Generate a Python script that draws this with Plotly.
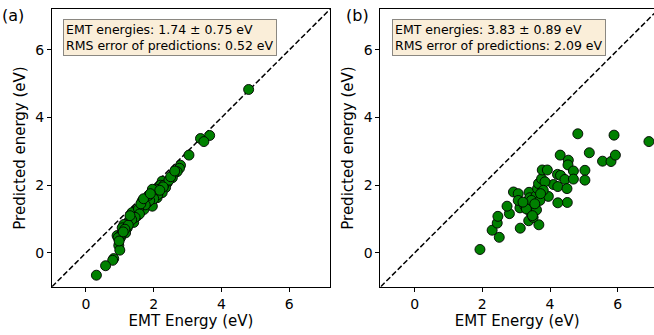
import plotly.graph_objects as go

# ---------------- data ----------------
left_x = [4.80, 3.65, 3.38, 3.48, 3.04, 2.79, 2.76, 2.69, 2.59, 2.55, 2.40, 2.25, 2.35, 2.20,
          2.15, 2.25, 2.05, 2.10, 1.96, 1.96, 1.81, 1.66, 1.61, 1.71, 1.46, 1.36, 1.51, 1.32,
          1.27, 1.41, 1.12, 1.07, 1.22, 1.17, 0.92, 1.02, 0.97, 1.00, 0.82, 0.79, 0.58, 0.31,
          1.96, 2.30, 2.45, 2.28, 2.12, 2.00, 1.88, 1.75, 1.55, 1.58, 1.45, 1.35, 1.25, 1.15,
          1.05, 0.95, 1.30, 1.62, 1.85, 2.18, 2.50, 2.62, 1.10, 0.98, 1.70, 1.90]
left_y = [4.83, 3.47, 3.38, 3.29, 2.89, 2.59, 2.50, 2.40, 2.34, 2.22, 2.07, 2.12, 1.93, 2.00,
          1.88, 1.78, 1.78, 1.63, 1.68, 1.38, 1.48, 1.53, 1.33, 1.28, 1.23, 1.19, 1.09, 1.04,
          0.94, 0.90, 0.84, 0.74, 0.74, 0.59, 0.51, 0.45, 0.22, 0.08, -0.17, -0.22, -0.38, -0.66,
          1.88, 2.00, 2.15, 1.95, 1.72, 1.60, 1.55, 1.42, 1.30, 1.15, 1.05, 0.98, 0.82, 0.70,
          0.55, 0.45, 1.10, 1.45, 1.70, 1.85, 2.25, 2.42, 0.62, 0.35, 1.60, 1.75]

right_x = [1.93, 2.50, 2.29, 2.44, 2.46, 2.80, 2.73, 2.92, 3.06, 3.11, 3.06, 3.12, 3.31, 3.38,
           3.40, 3.43, 3.37, 3.53, 3.67, 3.60, 3.59, 3.63, 3.66, 3.75, 3.77, 3.92, 3.95, 4.10,
           4.23, 4.22, 4.31, 4.44, 4.30, 4.50, 4.54, 4.53, 4.69, 4.69, 4.51, 4.23, 4.82, 5.03,
           5.03, 5.16, 5.55, 5.80, 5.93, 5.89, 6.92, 3.25, 3.45, 3.50, 3.70, 3.85, 3.30, 3.55,
           3.80, 3.20, 3.48, 3.72]
right_y = [0.10, 0.46, 0.67, 0.88, 1.08, 1.16, 1.38, 1.80, 1.75, 1.33, 1.55, 0.73, 1.50, 1.79,
           1.63, 1.19, 0.95, 1.23, 0.83, 1.27, 1.69, 1.90, 2.05, 2.19, 2.45, 2.45, 1.67, 2.02,
           1.96, 2.32, 2.29, 2.17, 2.89, 1.90, 2.74, 2.60, 2.42, 2.18, 1.49, 1.48, 3.52, 2.44,
           2.15, 2.96, 2.71, 2.70, 2.89, 3.48, 3.29, 1.40, 1.55, 1.05, 1.55, 2.10, 1.30, 1.45,
           1.85, 1.50, 1.10, 1.75]

limits = [-1.0, 7.2]
tick_vals = [0, 2, 4, 6]
tick_text = ["0", "2", "4", "6"]
panel_labels = ["(a)", "(b)"]
stats_text = ["EMT energies: 1.74 ± 0.75 eV<br>RMS error of predictions: 0.52 eV",
              "EMT energies: 3.83 ± 0.89 eV<br>RMS error of predictions: 2.09 eV"]
x_title = "EMT Energy (eV)"
y_title = "Predicted energy (eV)"

# ---------------- figure ----------------
FONT = "DejaVu Sans"
W, H = 654, 335
fig = go.Figure()

marker = dict(color="#008000", size=10, line=dict(color="black", width=0.9))
dash_line = dict(color="black", width=1.5, dash="5.5px,2.5px")

for i, (xs, ys) in enumerate([(left_x, left_y), (right_x, right_y)]):
    xa = "x" if i == 0 else "x2"
    ya = "y" if i == 0 else "y2"
    fig.add_trace(go.Scatter(x=limits, y=limits, mode="lines", line=dash_line,
                             xaxis=xa, yaxis=ya, showlegend=False, hoverinfo="skip"))
    fig.add_trace(go.Scatter(x=xs, y=ys, mode="markers", marker=marker,
                             xaxis=xa, yaxis=ya, showlegend=False))

y_dom = [48.3 / H, 325.7 / H]
axis_common = dict(tickvals=tick_vals, ticktext=tick_text, ticks="outside", ticklen=4,
                   tickwidth=1, tickcolor="black", showline=True, linecolor="black",
                   linewidth=1, showgrid=False, zeroline=False,
                   tickfont=dict(family=FONT, size=14, color="black"))

fig.update_layout(
    width=W, height=H, margin=dict(l=0, r=0, t=0, b=0),
    plot_bgcolor="white", paper_bgcolor="white",
    xaxis=dict(domain=[52 / W, 330 / W], range=limits, anchor="y", mirror=True,
               title=dict(text=x_title, font=dict(family=FONT, size=15, color="black"), standoff=4),
               **axis_common),
    yaxis=dict(domain=y_dom, range=limits, anchor="x", mirror=True,
               title=dict(text=y_title, font=dict(family=FONT, size=15, color="black"), standoff=6),
               **axis_common),
    xaxis2=dict(domain=[380.4 / W, 1.0], range=[-1.01, 7.07], anchor="y2", mirror=True,
                title=dict(text=x_title, font=dict(family=FONT, size=15, color="black"), standoff=4),
                **axis_common),
    yaxis2=dict(domain=y_dom, range=limits, anchor="x2", mirror=False,
                title=dict(text=y_title, font=dict(family=FONT, size=15, color="black"), standoff=6),
                **axis_common),
)

box_left = [62.7, 391.7]
for i in range(2):
    fig.add_annotation(x=box_left[i] / W, y=1 - 19.3 / H, xref="paper", yref="paper",
                       xanchor="left", yanchor="top", align="left", showarrow=False,
                       text=stats_text[i],
                       font=dict(family=FONT, size=12.5, color="black"),
                       bgcolor="#faeed9", bordercolor="rgba(0,0,0,0.45)", borderwidth=1,
                       borderpad=2)
    fig.add_annotation(x=[0, 344][i] / W, y=1 - 4 / H, xref="paper", yref="paper",
                       xanchor="left", yanchor="top", showarrow=False, text=panel_labels[i],
                       font=dict(family=FONT, size=16, color="black"))

fig.write_html("out.html")
